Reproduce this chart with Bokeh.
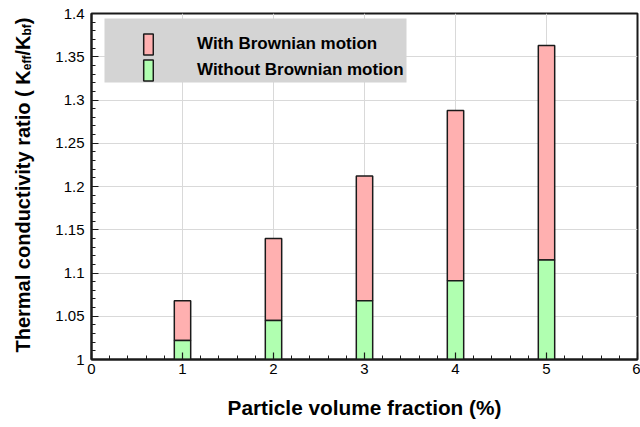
import numpy as np
from bokeh.plotting import figure
from bokeh.layouts import row
from bokeh.models import (FixedTicker, Range1d, Legend, LegendItem, BoxAnnotation, ColumnDataSource)
from bokeh.core.properties import value
from bokeh.embed import file_html
from bokeh.resources import INLINE

# ---- data ----
volume_fraction = [1, 2, 3, 4, 5]
with_brownian = [1.068, 1.140, 1.212, 1.288, 1.363]
without_brownian = [1.022, 1.045, 1.068, 1.091, 1.115]

x_ticks = [0, 1, 2, 3, 4, 5, 6]
x_tick_labels = ["0", "1", "2", "3", "4", "5", "6"]
y_ticks = [1.0, 1.05, 1.1, 1.15, 1.2, 1.25, 1.3, 1.35, 1.4]
y_tick_labels = ["1", "1.05", "1.1", "1.15", "1.2", "1.25", "1.3", "1.35", "1.4"]

y_label_parts = ["Thermal conductivity ratio ( K", "eff", "/K", "bf", ")"]

FONT = "Liberation Sans"
TOTAL_W, H = 640, 427
LW = 40                      # width of the y-label strip
W = TOTAL_W - LW
BL, BR, BT, BB = 51, 3, 13, 68
FW, FH = W - BL - BR, H - BT - BB
X0, X1, Y0, Y1 = 0.0, 6.0, 1.0, 1.4

def to_data(px, py):
    # page pixel -> data coordinates of the main plot
    cx, cy = px - LW - BL, py - BT
    return X0 + cx / FW * (X1 - X0), Y1 - cy / FH * (Y1 - Y0)

p = figure(width=W, height=H, output_backend="svg", toolbar_location=None,
           x_range=Range1d(X0, X1), y_range=Range1d(Y0, Y1),
           min_border_left=BL, min_border_right=BR, min_border_top=BT, min_border_bottom=BB)
p.frame_align = False
p.background_fill_color = "white"
p.border_fill_color = "white"
p.outline_line_color = "#1a1a1a"
p.outline_line_width = 2

# ticks
xt = FixedTicker(ticks=x_ticks, minor_ticks=list(np.round(np.arange(0, 6.0001, 0.2), 2)))
yt = FixedTicker(ticks=y_ticks, minor_ticks=list(np.round(np.arange(1.0, 1.4001, 0.01), 2)))
p.xaxis.ticker = xt
p.yaxis.ticker = yt
p.xgrid.ticker = xt
p.ygrid.ticker = yt
p.xaxis.major_label_overrides = dict(zip(x_ticks, x_tick_labels))
p.yaxis.major_label_overrides = dict(zip(y_ticks, y_tick_labels))

for ax in (p.xaxis[0], p.yaxis[0]):
    ax.axis_line_color = "#1a1a1a"
    ax.axis_line_width = 2
    ax.major_tick_in = 7
    ax.major_tick_out = 0
    ax.minor_tick_in = 4
    ax.minor_tick_out = 0
    ax.major_tick_line_color = "#1a1a1a"
    ax.minor_tick_line_color = "#1a1a1a"
    ax.major_tick_line_width = 1.2
    ax.minor_tick_line_width = 1
    ax.major_label_text_font = FONT
    ax.major_label_text_font_size = "15px"
    ax.major_label_text_color = "black"

p.xaxis.major_label_standoff = 4
p.yaxis.major_label_standoff = 7
p.xaxis.axis_label = "Particle volume fraction (%)"
p.xaxis.axis_label_text_font = FONT
p.xaxis.axis_label_text_font_size = "20.8px"
p.xaxis.axis_label_text_font_style = "bold"
p.xaxis.axis_label_text_color = "black"
p.xaxis.axis_label_standoff = 19

for g in (p.xgrid[0], p.ygrid[0]):
    g.grid_line_color = "#d9d9d9"
    g.grid_line_width = 1

# bars
bw = 0.18
r_with = p.vbar(x=volume_fraction, width=bw, bottom=without_brownian, top=with_brownian,
                fill_color="#ffb0b0", line_color="#1a1a1a", line_width=1.5)
r_without = p.vbar(x=volume_fraction, width=bw, bottom=Y0, top=without_brownian,
                   fill_color="#b0ffb0", line_color="#1a1a1a", line_width=1.5)

# legend background box
lx0, ly0 = to_data(104, 18)
lx1, ly1 = to_data(406, 82)
p.add_layout(BoxAnnotation(left=lx0, right=lx1, top=ly0, bottom=ly1,
                           fill_color="#d4d4d4", fill_alpha=1.0, line_color=None))

legend = Legend(items=[LegendItem(label="With Brownian motion", renderers=[r_with]),
                       LegendItem(label="Without Brownian motion", renderers=[r_without])],
                location=(51, 276), margin=0, padding=0, spacing=0,
                glyph_width=12, glyph_height=26, label_height=26, label_standoff=43,
                background_fill_alpha=0, border_line_color=None,
                label_text_font=FONT, label_text_font_size="17px",
                label_text_font_style="bold", label_text_color="black")
p.add_layout(legend)

# y-axis label strip (rotated text with subscripts); its frame fills the whole strip
# and its y range maps 1:1 onto page pixels (y = H - page_y)
lab = figure(width=LW, height=H, output_backend="svg", toolbar_location=None,
             x_axis_location=None, y_axis_location=None,
             x_range=Range1d(0, LW), y_range=Range1d(0, H),
             min_border_left=0, min_border_right=0, min_border_top=0, min_border_bottom=0)
lab.frame_align = False
lab.grid.visible = False
lab.outline_line_color = None
lab.background_fill_color = "white"
lab.border_fill_color = "white"

# chain the pieces along the rotated baseline (Arial/Liberation bold advance widths)
sizes = [20, 12, 20, 12, 20]
em_widths = [14.114, 1.222, 1.0, 0.944, 0.333]
baselines = [22, 26, 22, 26, 22]
starts = []
pos = 352.0
for s, w in zip(sizes, em_widths):
    starts.append(pos)
    pos -= s * w

lab_src = ColumnDataSource(dict(
    x=baselines,
    y=[H - s for s in starts],
    text=y_label_parts,
    size=[f"{s}px" for s in sizes],
))
lab.text(x="x", y="y", text="text", source=lab_src, angle=np.pi / 2,
         text_align="left", text_baseline="alphabetic", text_font=value(FONT),
         text_font_size="size", text_font_style="bold", text_color="black")

layout = row(lab, p, spacing=0)
open("out.html", "w").write(file_html(layout, INLINE))
